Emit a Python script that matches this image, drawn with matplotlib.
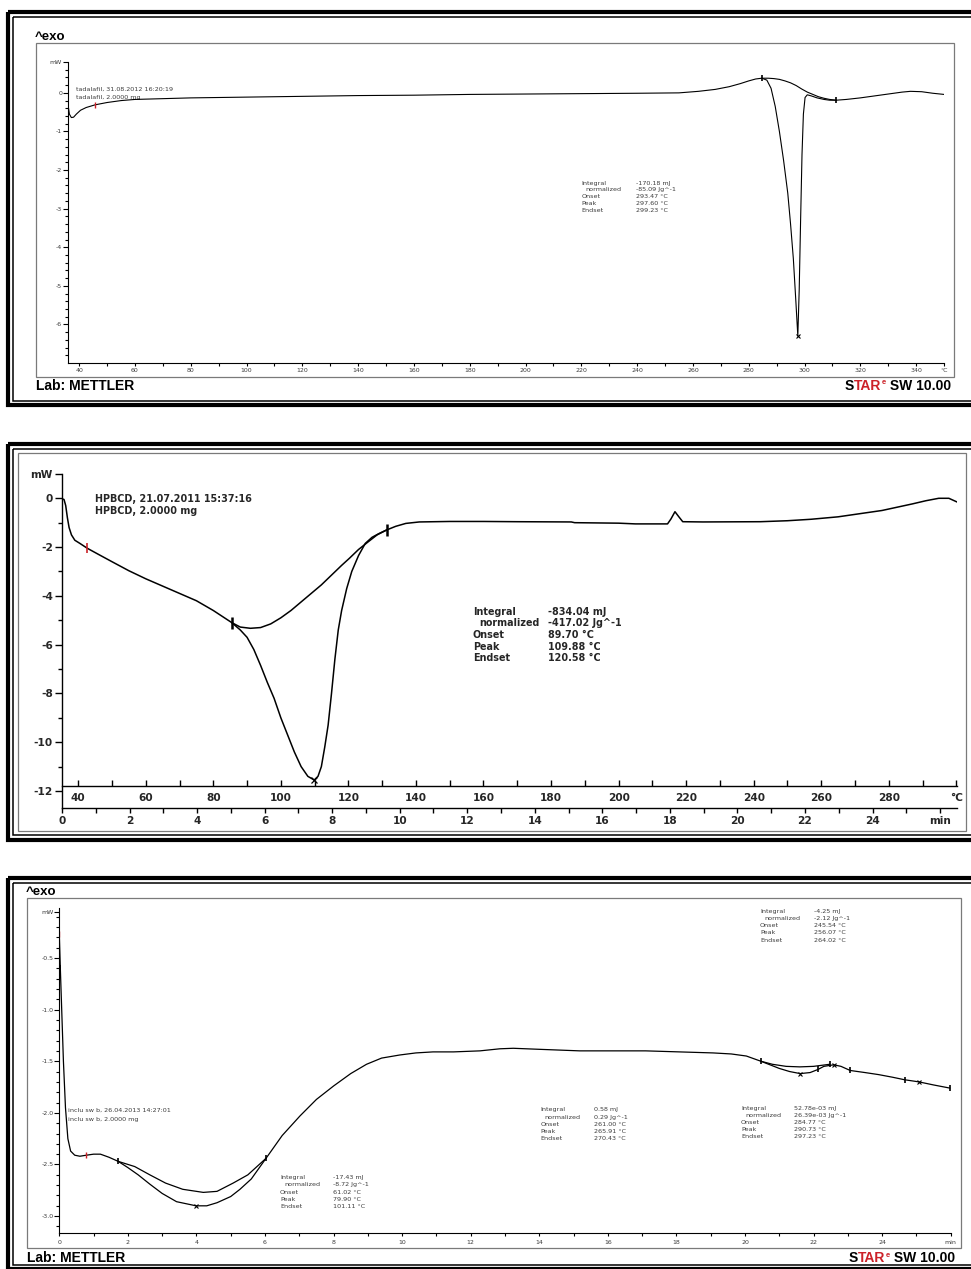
import numpy as np
import matplotlib.pyplot as plt
from matplotlib.patches import Rectangle

W, H = 971, 1269

# ---------------------------------------------------------------
# Run 1: tadalafil, heat flow (mW) against temperature (degC)
# ---------------------------------------------------------------
tad_temp = [35.6, 36.0, 36.5, 37.2, 38.0, 39.0, 40.5, 42.5, 45.7, 50, 55, 60, 70, 80,
            100, 120, 140, 160, 180, 200, 220, 240, 255, 262, 268, 273, 277, 280,
            282.5, 284.7, 286.5, 288.0, 289.5, 291.0, 292.5, 294.0, 295.0, 296.0,
            296.9, 297.6, 298.1, 298.6, 299.1, 299.6, 300.2, 301.0, 302.5, 304.5,
            307, 309, 311.4, 315, 320, 325, 330, 335, 338, 342, 346, 350]
tad_heat = [-0.12, -0.3, -0.55, -0.64, -0.63, -0.55, -0.45, -0.38, -0.31, -0.25, -0.2,
            -0.17, -0.15, -0.13, -0.11, -0.09, -0.07, -0.06, -0.04, -0.03, -0.02, -0.01,
            0.0, 0.04, 0.09, 0.16, 0.24, 0.31, 0.36, 0.38, 0.33, 0.12, -0.35, -1.0,
            -1.75, -2.6, -3.4, -4.3, -5.4, -6.3, -5.1, -3.3, -1.6, -0.55, -0.12, -0.05,
            -0.08, -0.13, -0.17, -0.19, -0.19, -0.17, -0.13, -0.08, -0.03, 0.02, 0.04,
            0.03, -0.01, -0.04]
tad_base_temp = [284.7, 287, 289, 291, 293, 295, 297, 299, 301, 303, 305, 307, 309, 311.4]
tad_base_heat = [0.38, 0.38, 0.37, 0.35, 0.31, 0.26, 0.19, 0.10, 0.02, -0.04, -0.10,
                 -0.14, -0.17, -0.19]
tad_red_temp = [35.6, 45.7]
tad_red_heat = [-0.12, -0.31]
tad_lim_temp = [284.7, 311.4]
tad_lim_heat = [0.38, -0.19]
tad_peak_temp = [297.60]
tad_peak_heat = [-6.3]
tad_labels = ['Integral', 'normalized', 'Onset', 'Peak', 'Endset']
tad_values = ['-170.18 mJ', '-85.09 Jg^-1', '293.47 °C', '297.60 °C', '299.23 °C']
tad_sample = ['tadalafil, 31.08.2012 16:20:19', 'tadalafil, 2.0000 mg']

# ---------------------------------------------------------------
# Run 2: HPBCD, temperature and time axes
# ---------------------------------------------------------------
hp_temp = [34.8, 35.8, 36.3, 36.8, 37.3, 38.0, 39.0, 40.5, 42.7, 46, 50, 55, 60, 65,
           70, 75, 80, 85.5, 88, 90, 92, 94, 96, 98, 100, 102, 104, 106, 108, 109.88,
           111, 112, 113, 114, 115, 116, 117, 118, 119.5, 121, 123, 125, 127, 129,
           131.3, 134, 137, 141, 150, 160, 170, 186, 187, 200, 205, 214.5, 215.5,
           216.7, 217.8, 219, 225, 242, 250, 257, 265, 272, 278, 283, 287, 291, 294.8,
           297.8, 300.2]
hp_heat = [0.0, -0.05, -0.3, -0.8, -1.2, -1.5, -1.72, -1.85, -2.05, -2.3, -2.6, -2.97,
           -3.3, -3.6, -3.9, -4.2, -4.6, -5.1, -5.4, -5.7, -6.2, -6.85, -7.55, -8.2,
           -9.0, -9.7, -10.4, -11.0, -11.4, -11.55, -11.4, -11.0, -10.2, -9.3, -8.0,
           -6.6, -5.4, -4.6, -3.7, -3.0, -2.35, -1.85, -1.6, -1.45, -1.3, -1.15, -1.03,
           -0.97, -0.95, -0.95, -0.96, -0.97, -1.0, -1.02, -1.05, -1.05, -0.85, -0.55,
           -0.75, -0.96, -0.97, -0.96, -0.92, -0.86, -0.76, -0.62, -0.5, -0.35, -0.23,
           -0.1, 0.0, 0.0, -0.15]
hp_base_temp = [85.5, 88, 91, 94, 97, 100, 103, 106, 109, 112, 115, 118, 120.3, 123,
                125.9, 128.5, 131.3]
hp_base_heat = [-5.1, -5.28, -5.33, -5.3, -5.15, -4.9, -4.6, -4.25, -3.9, -3.55, -3.15,
                -2.75, -2.46, -2.1, -1.78, -1.5, -1.3]
hp_red_temp = [34.8, 42.7]
hp_red_heat = [0.0, -2.05]
hp_lim_temp = [85.5, 131.3]
hp_lim_heat = [-5.1, -1.3]
hp_peak_temp = [109.88]
hp_peak_heat = [-11.55]
hp_labels = ['Integral', 'normalized', 'Onset', 'Peak', 'Endset']
hp_values = ['-834.04 mJ', '-417.02 Jg^-1', '89.70 °C', '109.88 °C', '120.58 °C']
hp_sample = ['HPBCD, 21.07.2011 15:37:16', 'HPBCD, 2.0000 mg']

# ---------------------------------------------------------------
# Run 3: inclusion complex, heat flow against time (min)
# ---------------------------------------------------------------
inc_time = [0.0, 0.03, 0.07, 0.12, 0.18, 0.25, 0.33, 0.45, 0.6, 0.79, 1.0, 1.2, 1.45,
            1.72, 2.0, 2.3, 2.64, 3.0, 3.42, 3.99, 4.3, 4.6, 5.0, 5.27, 5.6, 6.03, 6.5,
            7.02, 7.5, 8.0, 8.5, 8.96, 9.4, 9.93, 10.4, 10.9, 11.5, 12.27, 12.85,
            13.24, 14, 15.18, 17.1, 19.07, 19.6, 20.04, 20.46, 21.0, 21.3, 21.61, 21.9,
            22.13, 22.3, 22.59, 22.8, 23.07, 23.5, 23.9, 24.3, 24.66, 25.07, 25.5, 25.97]
inc_heat = [-0.27, -0.6, -1.0, -1.5, -1.95, -2.25, -2.37, -2.41, -2.42, -2.41, -2.40,
            -2.40, -2.43, -2.47, -2.53, -2.6, -2.69, -2.78, -2.86, -2.90, -2.90, -2.87,
            -2.81, -2.74, -2.64, -2.44, -2.22, -2.03, -1.87, -1.74, -1.62, -1.53, -1.47,
            -1.44, -1.42, -1.41, -1.41, -1.40, -1.38, -1.375, -1.385, -1.40, -1.40,
            -1.42, -1.43, -1.45, -1.50, -1.57, -1.60, -1.62, -1.61, -1.58, -1.55,
            -1.535, -1.55, -1.59, -1.61, -1.63, -1.655, -1.68, -1.70, -1.73, -1.76]
inc_base1_time = [1.72, 2.2, 2.64, 3.1, 3.6, 4.2, 4.6, 5.07, 5.5, 6.03]
inc_base1_heat = [-2.47, -2.52, -2.60, -2.68, -2.74, -2.77, -2.76, -2.68, -2.6, -2.44]
inc_base2_time = [20.46, 20.8, 21.2, 21.6, 22.0, 22.47]
inc_base2_heat = [-1.50, -1.53, -1.55, -1.555, -1.55, -1.53]
inc_red_time = [0.0, 0.79]
inc_red_heat = [-0.27, -2.41]
inc_lim_time = [0.02, 1.72, 6.03, 20.46, 22.13, 22.47, 23.07, 24.66, 25.97]
inc_lim_heat = [-0.6, -2.47, -2.44, -1.50, -1.58, -1.53, -1.59, -1.68, -1.76]
inc_peak_time = [3.99, 21.61, 22.59, 25.07]
inc_peak_heat = [-2.90, -1.62, -1.535, -1.70]
inc_labels = ['Integral', 'normalized', 'Onset', 'Peak', 'Endset']
inc_values_a = ['-17.43 mJ', '-8.72 Jg^-1', '61.02 °C', '79.90 °C', '101.11 °C']
inc_values_b = ['0.58 mJ', '0.29 Jg^-1', '261.00 °C', '265.91 °C', '270.43 °C']
inc_values_c = ['52.78e-03 mJ', '26.39e-03 Jg^-1', '284.77 °C', '290.73 °C', '297.23 °C']
inc_values_d = ['-4.25 mJ', '-2.12 Jg^-1', '245.54 °C', '256.07 °C', '264.02 °C']
inc_sample = ['inclu sw b, 26.04.2013 14:27:01', 'inclu sw b, 2.0000 mg']

RED = '#cc2229'
SMALL = '#3c3c3c'
DARK = '#262626'

fig = plt.figure(figsize=(W / 100, H / 100), dpi=100)
fig.patch.set_facecolor('white')

# pixel-space layer for frames and free text
bg = fig.add_axes([0, 0, 1, 1])
bg.set_xlim(0, W)
bg.set_ylim(H, 0)
bg.axis('off')


def panel_axes(left, top, right, bottom):
    ax = fig.add_axes([left / W, 1 - bottom / H, (right - left) / W, (bottom - top) / H])
    ax.patch.set_visible(False)
    ax.spines['top'].set_visible(False)
    ax.spines['right'].set_visible(False)
    return ax


def double_frame(thick_top, thin_top, thin_bot, thick_bot):
    bg.add_patch(Rectangle((8, thick_top), 1000, thick_bot - thick_top,
                           fill=False, ec='black', lw=3.0))
    bg.add_patch(Rectangle((12.7, thin_top), 1000, thin_bot - thin_top,
                           fill=False, ec='black', lw=1.1))


def chart_box(x0, y0, x1, y1):
    bg.add_patch(Rectangle((x0, y0), x1 - x0, y1 - y0, fill=False, ec='#7a7a7a', lw=0.9))


def result_block(x, x_val, y, dy, labels, values, size, color, weight='normal'):
    for i, (lab, val) in enumerate(zip(labels, values)):
        indent = 0.9 * size if lab == 'normalized' else 0
        bg.text(x + indent, y + i * dy, lab, fontsize=size, color=color, va='center',
                fontweight=weight)
        bg.text(x_val, y + i * dy, val, fontsize=size, color=color, va='center',
                fontweight=weight)


def star_logo(x, y):
    s = bg.text(x, y, 'S', fontsize=10, fontweight='bold', family='Liberation Sans',
                color='black', va='center')
    tar = bg.annotate('TAR', xy=(1, 0), xycoords=s, va='bottom', fontsize=10,
                      fontweight='bold', family='Liberation Sans', color=RED)
    bg.annotate('e', xy=(1, 0.45), xycoords=tar, va='bottom', fontsize=5.5,
                fontweight='bold', family='Liberation Sans', color=RED)
    bg.annotate(' SW 10.00', xy=(1, 0), xycoords=tar, xytext=(3.4, 0),
                textcoords='offset points', va='bottom', fontsize=10,
                fontweight='bold', family='Liberation Sans', color='black')


def set_ticks(axis, major, labels, minor):
    axis.set_ticks(major)
    axis.set_ticklabels(labels)
    axis.set_ticks(minor, minor=True)


# ---------------- panel 1 ----------------
double_frame(11.5, 16.8, 400.7, 405.0)
chart_box(36, 43.3, 954, 376.7)
bg.text(35, 37, '^exo', fontsize=9.5, fontweight='bold', family='Liberation Sans', va='center')
bg.text(36, 385.5, 'Lab: METTLER', fontsize=10, fontweight='bold', family='Liberation Sans',
        va='center')
star_logo(845, 385.5)

ax1 = panel_axes(68, 62, 944, 363)
ax1.set_xlim(36.0, 350)
ax1.set_ylim(-7.0, 0.8)
ax1.plot(tad_temp, tad_heat, color='black', lw=0.8)
ax1.plot(tad_base_temp, tad_base_heat, color='black', lw=0.8)
ax1.plot(tad_red_temp, tad_red_heat, ls='none', marker='|', ms=5, mew=1.0, color=RED)
ax1.plot(tad_lim_temp, tad_lim_heat, ls='none', marker='|', ms=5, mew=1.2, color='black')
ax1.plot(tad_peak_temp, tad_peak_heat, ls='none', marker='x', ms=3, mew=0.8, color='black')

t_major = list(range(40, 341, 20)) + [350]
set_ticks(ax1.xaxis, t_major, [str(v) for v in t_major[:-1]] + ['°C'],
          list(range(50, 331, 20)))
y_major = [0.8, 0, -1, -2, -3, -4, -5, -6]
set_ticks(ax1.yaxis, y_major, ['mW'] + [str(v) for v in y_major[1:]],
          np.round(np.arange(-6.8, 0.7, 0.2), 1))
ax1.tick_params(axis='both', which='both', labelsize=4.5, labelcolor=SMALL, width=0.8,
                color='black')
ax1.tick_params(axis='x', which='both', length=2.2, pad=1.2)
ax1.tick_params(axis='y', which='major', length=3.5, pad=0.8)
ax1.tick_params(axis='y', which='minor', length=2.2)
for side in ('left', 'bottom'):
    ax1.spines[side].set_linewidth(0.8)

bg.text(76, 89, tad_sample[0], fontsize=4.6, color=SMALL, va='center')
bg.text(76, 97, tad_sample[1], fontsize=4.6, color=SMALL, va='center')
result_block(581.7, 635.7, 183, 6.8, tad_labels, tad_values, 4.6, SMALL)

# ---------------- panel 2 ----------------
double_frame(444.0, 448.5, 835.0, 839.5)
chart_box(18.3, 453.3, 965.7, 831)

ax2 = panel_axes(62, 473.9, 957.3, 808.3)
ax2.set_xlim(35.2, 300.3)
ax2.set_ylim(-12.71, 1.0)
ax2.plot(hp_temp, hp_heat, color='black', lw=1.1)
ax2.plot(hp_base_temp, hp_base_heat, color='black', lw=1.1)
ax2.plot(hp_red_temp, hp_red_heat, ls='none', marker='|', ms=7, mew=1.2, color=RED)
ax2.plot(hp_lim_temp, hp_lim_heat, ls='none', marker='|', ms=8, mew=1.8, color='black')
ax2.plot(hp_peak_temp, hp_peak_heat, ls='none', marker='x', ms=4, mew=0.9, color='black')

ax2.spines['bottom'].set_position(('data', -11.78))
h_major = list(range(40, 281, 20)) + [300]
set_ticks(ax2.xaxis, h_major, [str(v) for v in h_major[:-1]] + ['°C'],
          list(range(50, 291, 20)))
ax2.tick_params(axis='x', which='both', direction='in', length=4, width=1.0, pad=5,
                labelsize=7.6, labelcolor=DARK)

y2_major = [1, 0, -2, -4, -6, -8, -10, -12]
set_ticks(ax2.yaxis, y2_major, ['mW'] + [str(v) for v in y2_major[1:]],
          [-1, -3, -5, -7, -9, -11])
ax2.tick_params(axis='y', which='major', length=5, width=1.0, pad=1.5, labelsize=7.6,
                labelcolor=DARK)
ax2.tick_params(axis='y', which='minor', length=3, width=1.0)
for side in ('left', 'bottom'):
    ax2.spines[side].set_linewidth(1.0)


def temp_to_min(T):
    return (np.asarray(T) - 35.2) / 10.0


def min_to_temp(t):
    return np.asarray(t) * 10.0 + 35.2


sec = ax2.secondary_xaxis(0, functions=(temp_to_min, min_to_temp))
m_major = list(range(0, 25, 2)) + [26]
set_ticks(sec.xaxis, m_major, [str(v) for v in m_major[:-1]] + ['min'],
          list(range(1, 26, 2)))
sec.tick_params(axis='x', which='both', direction='out', length=3.6, width=1.0, pad=2,
                labelsize=7.6, labelcolor=DARK)
sec.spines['bottom'].set_linewidth(1.0)

for axis_labels in (ax2.get_xticklabels(), ax2.get_yticklabels(), sec.get_xticklabels()):
    for lab in axis_labels:
        lab.set_fontweight('bold')

bg.text(95, 499.3, hp_sample[0], fontsize=6.9, fontweight='bold', color=DARK, va='center')
bg.text(95, 510.7, hp_sample[1], fontsize=6.9, fontweight='bold', color=DARK, va='center')
result_block(472.7, 547.7, 611.7, 11.6, hp_labels, hp_values, 6.9, DARK, 'bold')

# ---------------- panel 3 ----------------
double_frame(878.0, 883.3, 1265.0, 1268.8)
chart_box(27.3, 898.3, 960.7, 1248.3)
bg.text(26, 891.7, '^exo', fontsize=9.5, fontweight='bold', family='Liberation Sans',
        va='center')
bg.text(27, 1258, 'Lab: METTLER', fontsize=10, fontweight='bold', family='Liberation Sans',
        va='center')
star_logo(849, 1258)

ax3 = panel_axes(59.3, 908.3, 950.7, 1233.3)
ax3.set_xlim(0, 26)
ax3.set_ylim(-3.166, -0.02)
ax3.plot(inc_time, inc_heat, color='black', lw=0.9)
ax3.plot(inc_base1_time, inc_base1_heat, color='black', lw=0.9)
ax3.plot(inc_base2_time, inc_base2_heat, color='black', lw=0.9)
ax3.plot(inc_red_time, inc_red_heat, ls='none', marker='|', ms=5, mew=1.0, color=RED)
ax3.plot(inc_lim_time, inc_lim_heat, ls='none', marker='|', ms=5, mew=1.2, color='black')
ax3.plot(inc_peak_time, inc_peak_heat, ls='none', marker='x', ms=3, mew=0.8, color='black')

set_ticks(ax3.xaxis, m_major, [str(v) for v in m_major[:-1]] + ['min'],
          list(range(1, 26, 2)))
y3_major = [-0.06, -0.5, -1.0, -1.5, -2.0, -2.5, -3.0]
set_ticks(ax3.yaxis, y3_major, ['mW'] + [f'{v:.1f}' for v in y3_major[1:]],
          np.round(np.arange(-3.1, -0.05, 0.1), 1))
ax3.tick_params(axis='both', which='both', labelsize=4.5, labelcolor=SMALL, width=0.8,
                color='black')
ax3.tick_params(axis='x', which='both', length=2.2, pad=2.5)
ax3.tick_params(axis='y', which='major', length=3.5, pad=0.8)
ax3.tick_params(axis='y', which='minor', length=2.2)
for side in ('left', 'bottom'):
    ax3.spines[side].set_linewidth(0.8)

bg.text(68.3, 1110.7, inc_sample[0], fontsize=4.6, color=SMALL, va='center')
bg.text(68.3, 1119, inc_sample[1], fontsize=4.6, color=SMALL, va='center')
result_block(280, 333.3, 1177.7, 7.2, inc_labels, inc_values_a, 4.6, SMALL)
result_block(540.7, 594.3, 1110, 7.1, inc_labels, inc_values_b, 4.6, SMALL)
result_block(741, 794.3, 1108.3, 7.1, inc_labels, inc_values_c, 4.6, SMALL)
result_block(760, 814.3, 911.7, 7.1, inc_labels, inc_values_d, 4.6, SMALL)

fig.savefig('out.png', dpi=100)
